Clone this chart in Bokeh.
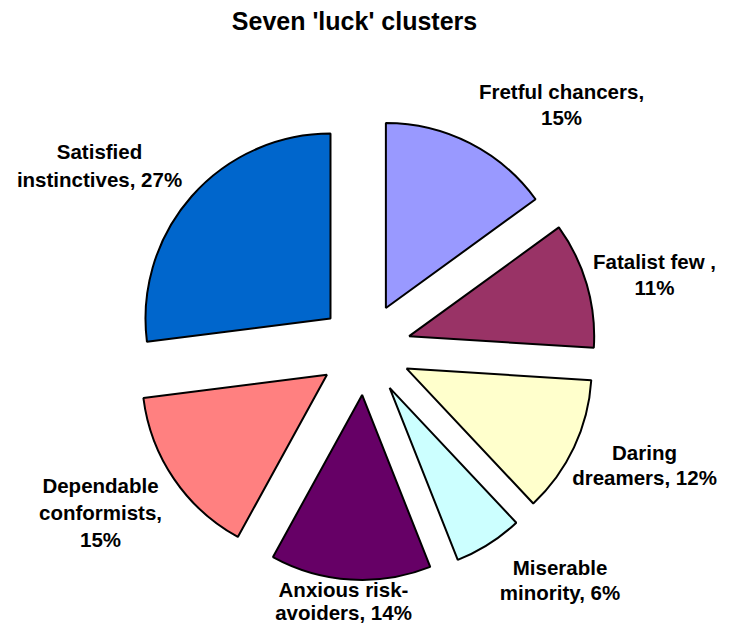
import numpy as np
from bokeh.plotting import figure
from bokeh.models import Range1d, ColumnDataSource
from bokeh.core.properties import value
from bokeh.embed import file_html
from bokeh.resources import INLINE

# ---- data ----
chart_title = "Seven 'luck' clusters"
categories = ["Fretful chancers", "Fatalist few ", "Daring dreamers", "Miserable minority",
              "Anxious risk-avoiders", "Dependable conformists", "Satisfied instinctives"]
values = [15, 11, 12, 6, 14, 15, 27]
colors = ["#9999FF", "#993366", "#FFFFCC", "#CCFFFF", "#660066", "#FF8080", "#0066CC"]
label_lines = [
    ["Fretful chancers,", "{}%"],
    ["Fatalist few ,", "{}%"],
    ["Daring", "dreamers, {}%"],
    ["Miserable", "minority, {}%"],
    ["Anxious risk-", "avoiders, {}%"],
    ["Dependable", "conformists,", "{}%"],
    ["Satisfied", "instinctives, {}%"],
]

# ---- layout (picture pixels, origin top-left) ----
W, H = 718, 625
def dx(px): return px
def dy(py): return H - py

center_page = (364.5, 348.5)
radius = 185
explode = 46
label_anchor = [(561, 99), (654, 269), (644, 460), (559.5, 575), (343, 597), (100, 493), (99, 159)]
line_steps = [26.5, 26.5, 25.5, 25.5, 23, 27, 28]
label_font_size = "20.5px"
label_shift = 8.5      # renderer places the alphabetic baseline lower by about this much
title_font_size = "25px"
title_shift = 10
title_anchor = (354, 30.5)

cx, cy = dx(center_page[0]), dy(center_page[1])
vals = np.array(values, dtype=float)
total = vals.sum()
ends = np.cumsum(vals) / total * 360.0
starts = ends - vals / total * 360.0
mids = np.radians((starts + ends) / 2)

src = ColumnDataSource(dict(
    x=cx + explode * np.sin(mids),
    y=cy + explode * np.cos(mids),
    start=np.radians(90 - ends),
    end=np.radians(90 - starts),
    color=colors,
    name=categories,
))

p = figure(width=W, height=H, output_backend="svg", toolbar_location=None,
           x_range=Range1d(0, W), y_range=Range1d(0, H), min_border=0)
p.axis.visible = False
p.grid.visible = False
p.outline_line_color = None
p.background_fill_color = "white"
p.border_fill_color = "white"

p.wedge(x="x", y="y", radius=radius, start_angle="start", end_angle="end",
        direction="anticlock", fill_color="color",
        line_color="black", line_width=2, source=src)

tx, ty, tt = [], [], []
for lines, v, (ax, ay), step in zip(label_lines, values, label_anchor, line_steps):
    for i, ln in enumerate(lines):
        tx.append(dx(ax))
        ty.append(dy(ay + i * step - label_shift))
        tt.append(ln.format(v))
p.text(x=tx, y=ty, text=tt, text_align="center", text_baseline="alphabetic",
       text_font=value("Liberation Sans"), text_font_style="bold",
       text_font_size=label_font_size, text_color="black")

p.text(x=[dx(title_anchor[0])], y=[dy(title_anchor[1] - title_shift)], text=[chart_title],
       text_align="center", text_baseline="alphabetic",
       text_font=value("Liberation Sans"), text_font_style="bold",
       text_font_size=title_font_size, text_color="black")

open("out.html", "w").write(file_html(p, INLINE))
